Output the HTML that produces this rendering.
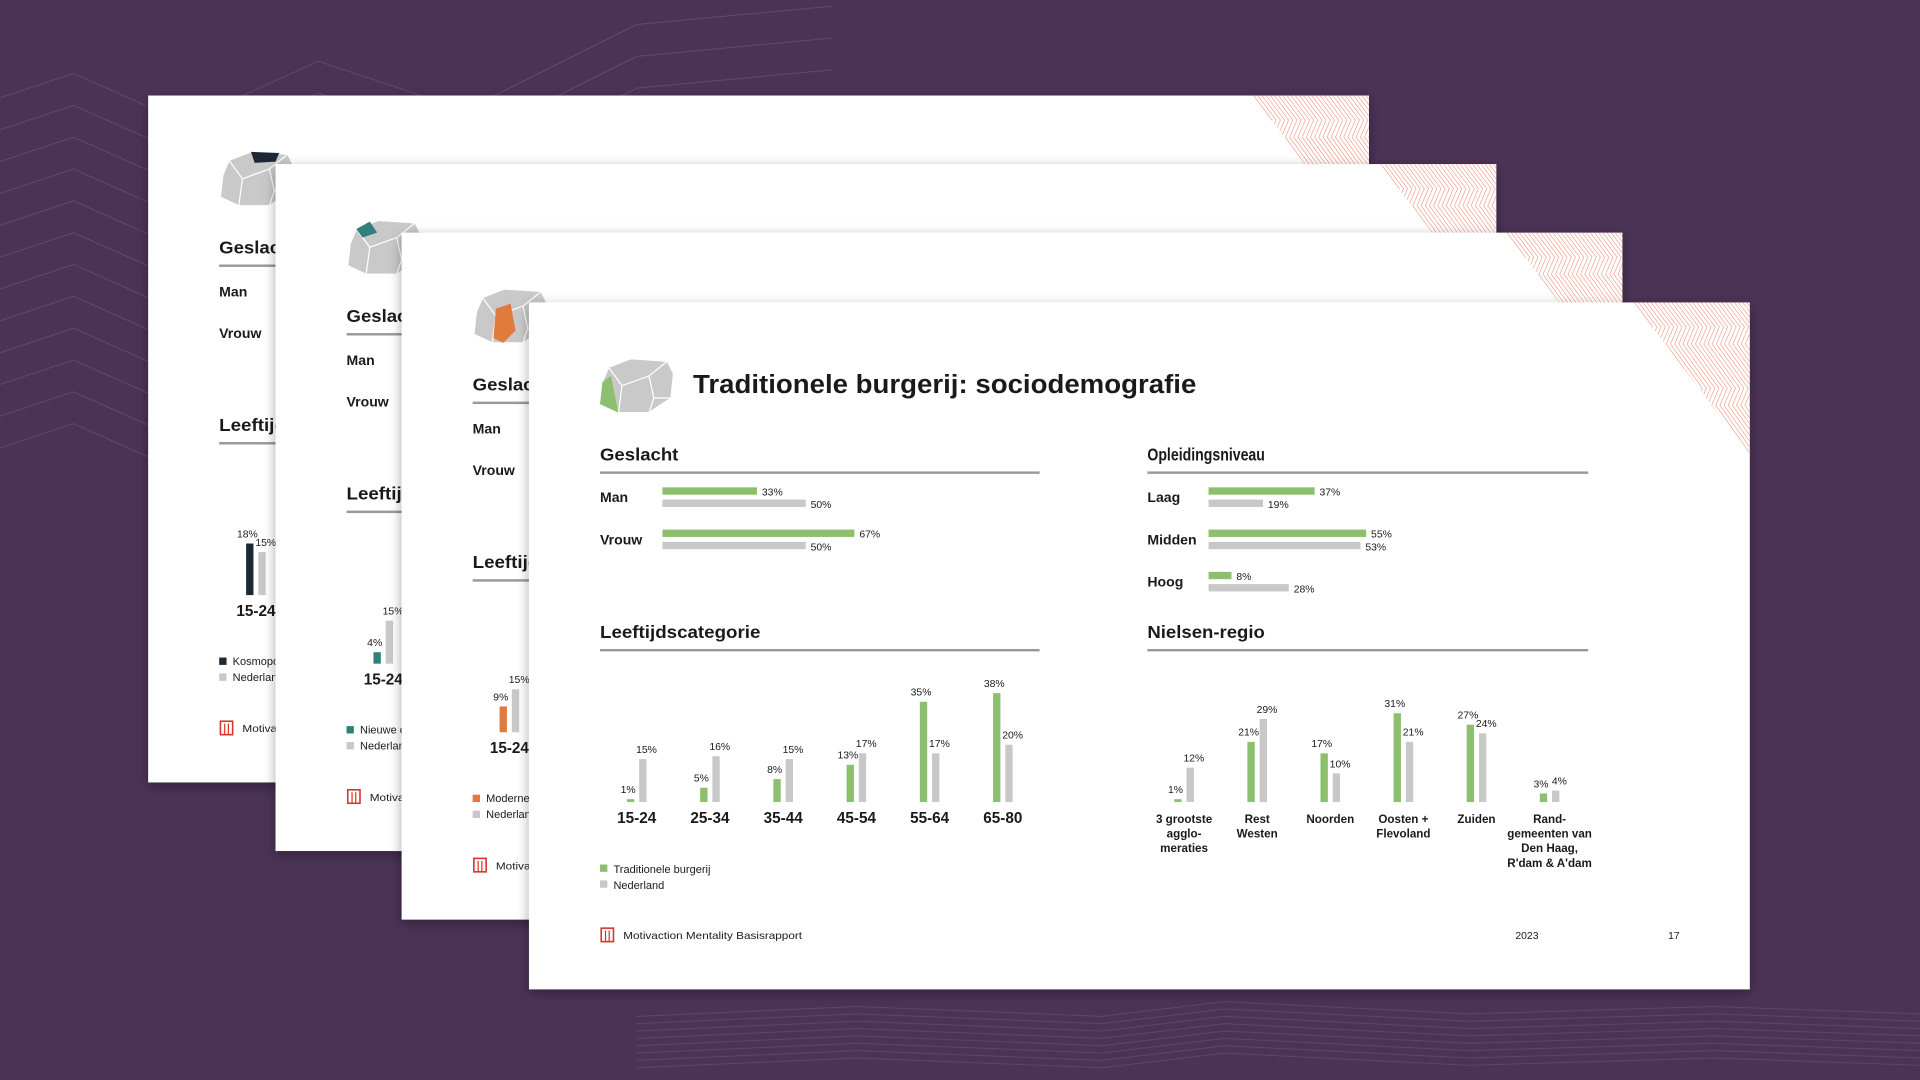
<!DOCTYPE html>
<html><head><meta charset="utf-8"><style>
html,body{margin:0;padding:0;background:#4b3356;width:1920px;height:1080px;overflow:hidden}
svg{display:block}
text{font-family:"Liberation Sans",sans-serif;fill:#1a1a1a}
</style></head><body>
<svg id="root" width="1920" height="1080" viewBox="0 0 1568 882" xmlns="http://www.w3.org/2000/svg" overflow="hidden">
<defs>
<filter id="sh" x="-5%" y="-5%" width="110%" height="115%"><feDropShadow dx="0" dy="3" stdDeviation="5" flood-color="#000" flood-opacity="0.35"/></filter>
</defs>
<g id="bg"></g>
<g id="slides"></g>
</svg>
<script>
const ageCats=['15-24','25-34','35-44','45-54','55-64','65-80'];
const ageTB=[1,5,8,13,35,38];
const ageNL=[15,16,15,17,17,20];
const regCats=[['3 grootste','agglo-','meraties'],['Rest','Westen'],['Noorden'],['Oosten +','Flevoland'],['Zuiden'],['Rand-','gemeenten van','Den Haag,','R\'dam & A\'dam']];
const regTB=[1,21,17,31,27,3];
const regNL=[12,29,10,21,24,4];
const genCats=['Man','Vrouw'];
const genTB=[33,67];
const genNL=[50,50];
const eduCats=['Laag','Midden','Hoog'];
const eduTB=[37,55,8];
const eduNL=[19,53,28];
const backColors=['#1e2833','#2f7f7a','#e07a3d'];
const backFirstVal=[18,4,9];
const backFirstNL=[15,15,15];
const backLegend=['Kosmopolieten','Nieuwe conservatieven','Moderne burgerij'];

const NS='http://www.w3.org/2000/svg';
const root=document.getElementById('root');
function el(tag,attrs,parent,txt){const e=document.createElementNS(NS,tag);for(const k in attrs)e.setAttribute(k,attrs[k]);if(txt!==undefined)e.textContent=txt;parent.appendChild(e);return e;}
const PX=2.34;
function hLen(v){return v*PX;}
function vLen(v){return v*PX;}
const GREEN='#8cbf6e',GREY='#c8c8c8';

const bg=document.getElementById('bg');
for(let i=0;i<12;i++){
  const y=60+i*26;
  const p=el('polyline',{points:`0,${y+20} 60,${y} 150,${y+40} 260,${y-10} 380,${y+30} 520,${y-40} 680,${y-55}`,fill:'none',stroke:'#6a5576','stroke-width':0.8,opacity:0.7},bg);
  
  
}
for(let i=0;i<8;i++){
  const y=822+i*6;
  const p=el('polyline',{points:`520,${y+8} 700,${y} 900,${y+8} 1000,${y-4} 1200,${y+6} 1400,${y} 1568,${y+6}`,fill:'none',stroke:'#6a5576','stroke-width':0.8,opacity:0.6},bg);
  
  
}

const slidesG=document.getElementById('slides');
function icon(g,x,y,col,facet){
  el('polygon',{points:`${x+7},${y+7} ${x+25},${y} ${x+55},${y+2} ${x+60},${y+12} ${x+58},${y+32} ${x+40},${y+44} ${x+15},${y+44} ${x},${y+37} ${x+2},${y+19}`,fill:'#c9c9c9',stroke:'#fff','stroke-width':1},g);
  el('polyline',{points:`${x+7},${y+7} ${x+18},${y+22} ${x+15},${y+44}`,fill:'none',stroke:'#fff','stroke-width':1},g);
  el('polyline',{points:`${x+18},${y+22} ${x+40},${y+14} ${x+55},${y+2}`,fill:'none',stroke:'#fff','stroke-width':1},g);
  el('polyline',{points:`${x+40},${y+14} ${x+44},${y+32} ${x+40},${y+44}`,fill:'none',stroke:'#fff','stroke-width':1},g);
  el('polyline',{points:`${x+44},${y+32} ${x+58},${y+32}`,fill:'none',stroke:'#fff','stroke-width':1},g);
  let pts;
  if(facet==='left')pts=`${x+2},${y+19} ${x+9},${y+14} ${x+15},${y+44} ${x},${y+37}`;
  else if(facet==='top')pts=`${x+25},${y} ${x+48},${y+1} ${x+45},${y+8} ${x+28},${y+9}`;
  else if(facet==='topleft')pts=`${x+7},${y+7} ${x+18},${y+1} ${x+24},${y+10} ${x+12},${y+14}`;
  else pts=`${x+18},${y+16} ${x+30},${y+12} ${x+34},${y+34} ${x+24},${y+44} ${x+16},${y+40}`;
  el('polygon',{points:pts,fill:col},g);
}
function hatch(g,x0,y0,idx){
  const x1=x0+997;
  const cid='clip'+idx;
  const cp=el('clipPath',{id:cid},g);
  el('polygon',{points:`${x1-95},${y0} ${x1},${y0} ${x1},${y0+125}`},cp);
  const hg=el('g',{'clip-path':`url(#${cid})`},g);
  
  
  for(let k=-40;k<140;k+=3.4){
    el('polyline',{points:`${x1-95+k},${y0} ${x1-80+k},${y0+20} ${x1-86+k},${y0+34} ${x1-60+k},${y0+70} ${x1-66+k},${y0+84} ${x1-36+k},${y0+126}`,fill:'none',stroke:'#f2a597','stroke-width':0.6},hg);
  }
}
function footer(g,x0,y0){
  const f=el('g',{},g);
  
  
  el('rect',{x:x0+59,y:y0+511,width:10,height:11,fill:'none',stroke:'#d9352b','stroke-width':1.3},f);
  el('line',{x1:x0+62.5,y1:y0+513,x2:x0+62.5,y2:y0+522,stroke:'#d9352b','stroke-width':1},f);
  el('line',{x1:x0+65.5,y1:y0+513,x2:x0+65.5,y2:y0+522,stroke:'#d9352b','stroke-width':1},f);
  const t=el('text',{x:x0+77,y:y0+520,'font-size':8.5,textLength:146,lengthAdjust:'spacingAndGlyphs'},g,'Motivaction Mentality Basisrapport');
  
  
}
function section(g,x,y,title,w,tl){
  const a={x:x,y:y+9,'font-size':14,'font-weight':'bold'};
  if(tl){a.textLength=tl;a.lengthAdjust='spacingAndGlyphs';}
  const t=el('text',a,g,title);
  
  
  el('rect',{x:x,y:y+18,width:w,height:2,fill:'#9a9a9a'},g);
}
function hbars(g,x,y,cats,tb,nl,barX){
  cats.forEach((c,i)=>{
    const ry=y+i*34.5;
    const l=el('text',{x:x,y:ry+4,'font-size':11.5,'font-weight':'bold'},g,c);
    
    
    const b1=el('rect',{x:barX,y:ry-8,width:hLen(tb[i]),height:6,fill:GREEN},g);
    
    
    el('text',{x:barX+hLen(tb[i])+4,y:ry-1.5,'font-size':8.5},g,tb[i]+'%');
    const b2=el('rect',{x:barX,y:ry+2,width:hLen(nl[i]),height:6,fill:GREY},g);
    
    
    el('text',{x:barX+hLen(nl[i])+4,y:ry+9,'font-size':8.5},g,nl[i]+'%');
  });
}
function columns(g,cx0,step,base,tb,nl,greenCol){
  tb.forEach((v,i)=>{
    const cx=cx0+i*step;
    if(v!==null){
      const h=vLen(v);
      const r=el('rect',{x:cx-8,y:base-h,width:6,height:h,fill:greenCol},g);
      
      
      el('text',{x:cx-7,y:base-h-5,'font-size':8.5,'text-anchor':'middle'},g,v+'%');
    }
    const h2=vLen(nl[i]);
    const r2=el('rect',{x:cx+2,y:base-h2,width:6,height:h2,fill:GREY},g);
    
    
    el('text',{x:cx+8,y:base-h2-5,'font-size':8.5,'text-anchor':'middle'},g,nl[i]+'%');
  });
}

const offs=[[121,78],[225,134],[328,190]];
const facets=['top','topleft','mid'];
offs.forEach(([x0,y0],i)=>{
  const g=el('g',{},slidesG);
  
  
  el('rect',{x:x0,y:y0,width:997,height:561,fill:'#fff',filter:'url(#sh)'},g);
  hatch(g,x0,y0,i);
  icon(g,x0+59,y0+46,backColors[i],facets[i]);
  section(g,x0+58,y0+120,'Geslacht',359,64);
  el('text',{x:x0+58,y:y0+164,'font-size':11.5,'font-weight':'bold'},g,'Man');
  el('text',{x:x0+58,y:y0+198,'font-size':11.5,'font-weight':'bold'},g,'Vrouw');
  section(g,x0+58,y0+265,'Leeftijdscategorie',359,131);
  columns(g,x0+88,60,y0+408,[backFirstVal[i]],[backFirstNL[i]],backColors[i]);
  el('text',{x:x0+88,y:y0+425,'font-size':12.5,'font-weight':'bold','text-anchor':'middle'},g,'15-24');
  el('rect',{x:x0+58,y:y0+459,width:6,height:6,fill:backColors[i]},g);
  el('text',{x:x0+69,y:y0+465,'font-size':9},g,backLegend[i]);
  el('rect',{x:x0+58,y:y0+472,width:6,height:6,fill:GREY},g);
  el('text',{x:x0+69,y:y0+478,'font-size':9},g,'Nederland');
  footer(g,x0,y0);
});

(function(){
  const x0=432,y0=247;
  const g=el('g',{},slidesG);
  
  
  el('rect',{x:x0,y:y0,width:997,height:561,fill:'#fff',filter:'url(#sh)'},g);
  hatch(g,x0,y0,3);
  icon(g,490,293,GREEN,'left');
  const t=el('text',{x:566,y:321,'font-size':21,'font-weight':'bold',textLength:411,lengthAdjust:'spacingAndGlyphs'},g,'Traditionele burgerij: sociodemografie');
  
  
  section(g,490,367,'Geslacht',359,64);
  hbars(g,490,406,genCats,genTB,genNL,541);
  section(g,937,367,'Opleidingsniveau',360,96);
  hbars(g,937,406,eduCats,eduTB,eduNL,987);
  section(g,490,512,'Leeftijdscategorie',359,131);
  columns(g,520,59.8,655,ageTB,ageNL,GREEN);
  ageCats.forEach((c,i)=>{
    const l=el('text',{x:520+i*59.8,y:672,'font-size':12.5,'font-weight':'bold','text-anchor':'middle'},g,c);
    
    
  });
  section(g,937,512,'Nielsen-regio',360,96);
  columns(g,967,59.7,655,regTB,regNL,GREEN);
  regCats.forEach((lines,i)=>{
    lines.forEach((ln,j)=>{
      const l=el('text',{x:967+i*59.7,y:672+j*12,'font-size':9.5,'font-weight':'bold','text-anchor':'middle'},g,ln);
      
      
    });
  });
  const lg1=el('rect',{x:490,y:706,width:6,height:6,fill:GREEN},g);
  
  
  el('text',{x:501,y:713,'font-size':9},g,'Traditionele burgerij');
  const lg2=el('rect',{x:490,y:719,width:6,height:6,fill:GREY},g);
  
  
  el('text',{x:501,y:726,'font-size':9},g,'Nederland');
  footer(g,x0,y0);
  el('text',{x:1247,y:767,'font-size':8.5,'text-anchor':'middle'},g,'2023');
  el('text',{x:1367,y:767,'font-size':8.5,'text-anchor':'middle'},g,'17');
})();
</script>
</body></html>
